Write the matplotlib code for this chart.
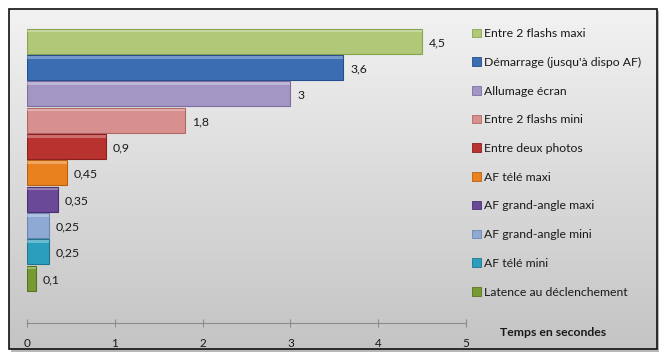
import numpy as np
import matplotlib
matplotlib.use('Agg')
import matplotlib.pyplot as plt
from matplotlib.patches import Rectangle, Patch

# data, top to bottom
labels = ["Entre 2 flashs maxi", "Démarrage (jusqu'à dispo AF)", "Allumage écran",
          "Entre 2 flashs mini", "Entre deux photos", "AF télé maxi",
          "AF grand-angle maxi", "AF grand-angle mini", "AF télé mini",
          "Latence au déclenchement"]
values = [4.5, 3.6, 3.0, 1.8, 0.9, 0.45, 0.35, 0.25, 0.25, 0.1]
value_text = ["4,5", "3,6", "3", "1,8", "0,9", "0,45", "0,35", "0,25", "0,25", "0,1"]
colors = ["#b0c878", "#3a6db2", "#a496c4", "#d8908e", "#b83230", "#e9811f",
          "#6a4a98", "#8eaad4", "#2c9ebd", "#789a32"]
edges = ["#8aa34f", "#234f8c", "#7e6ea0", "#b06866", "#8a1f1d", "#b8600f",
         "#4a2f70", "#6a86b0", "#1d7690", "#56731e"]

plt.rcParams['font.family'] = ['Lato', 'DejaVu Sans']

fig = plt.figure(figsize=(6.64, 3.6), dpi=100)

# gradient background inside the chart border
bg = fig.add_axes([0, 0, 1, 1], zorder=-10)
bg.set_xlim(0, 664)
bg.set_ylim(360, 0)
bg.axis('off')
grad = np.linspace(0, 1, 256).reshape(-1, 1)
bg.imshow(grad, cmap=matplotlib.colors.LinearSegmentedColormap.from_list(
    'g', ['#f2f2f2', '#c4c4c4']), extent=[9, 657, 349, 9], aspect='auto')
bg.add_patch(Rectangle((11, 11), 648, 341, facecolor='#b8b8b8', edgecolor='none', zorder=-1))
bg.add_patch(Rectangle((9, 9), 648, 340, facecolor='none', edgecolor='#111111', lw=1.2))

ax = fig.add_axes([27 / 664, 1 - 323 / 360, (466 - 27) / 664, (323 - 28) / 360])
ax.set_facecolor('none')

y = np.arange(len(values))[::-1]
ax.barh(y, values, height=0.95, color=colors, edgecolor=edges, linewidth=0.8, zorder=2)
# light bevel on top of each bar
ax.barh(y + 0.39, values, height=0.1, color='white', alpha=0.3, linewidth=0, zorder=3)

for yi, v, t in zip(y, values, value_text):
    ax.text(v + 0.08, yi - 0.05, t, va='center', ha='left', fontsize=8.8, color='#1a1a1a')

ax.set_xlim(0, 5)
ax.set_ylim(-1.7, 9.5)
ax.set_xticks(range(6))
ax.set_yticks([])
for s in ['top', 'right', 'left']:
    ax.spines[s].set_visible(False)
ax.spines['bottom'].set_color('#8c8c8c')
ax.tick_params(axis='x', direction='inout', length=6, color='#8c8c8c',
               labelsize=8.5, labelcolor='#1a1a1a', pad=8)

handles = [Patch(facecolor=c, edgecolor=e, lw=0.6) for c, e in zip(colors, edges)]
fig.legend(handles, labels, loc='upper left', bbox_to_anchor=(466 / 664, 1 - 22 / 360),
           frameon=False, fontsize=8.8, labelspacing=1.45, handlelength=0.7,
           handleheight=0.7, handletextpad=0.3, borderpad=0, labelcolor='#1a1a1a')

fig.text(553 / 664, 1 - 332 / 360, "Temps en secondes", ha='center', va='center',
         fontsize=8.8, fontweight='bold', color='#1a1a1a')

fig.savefig('out.png', dpi=100)
